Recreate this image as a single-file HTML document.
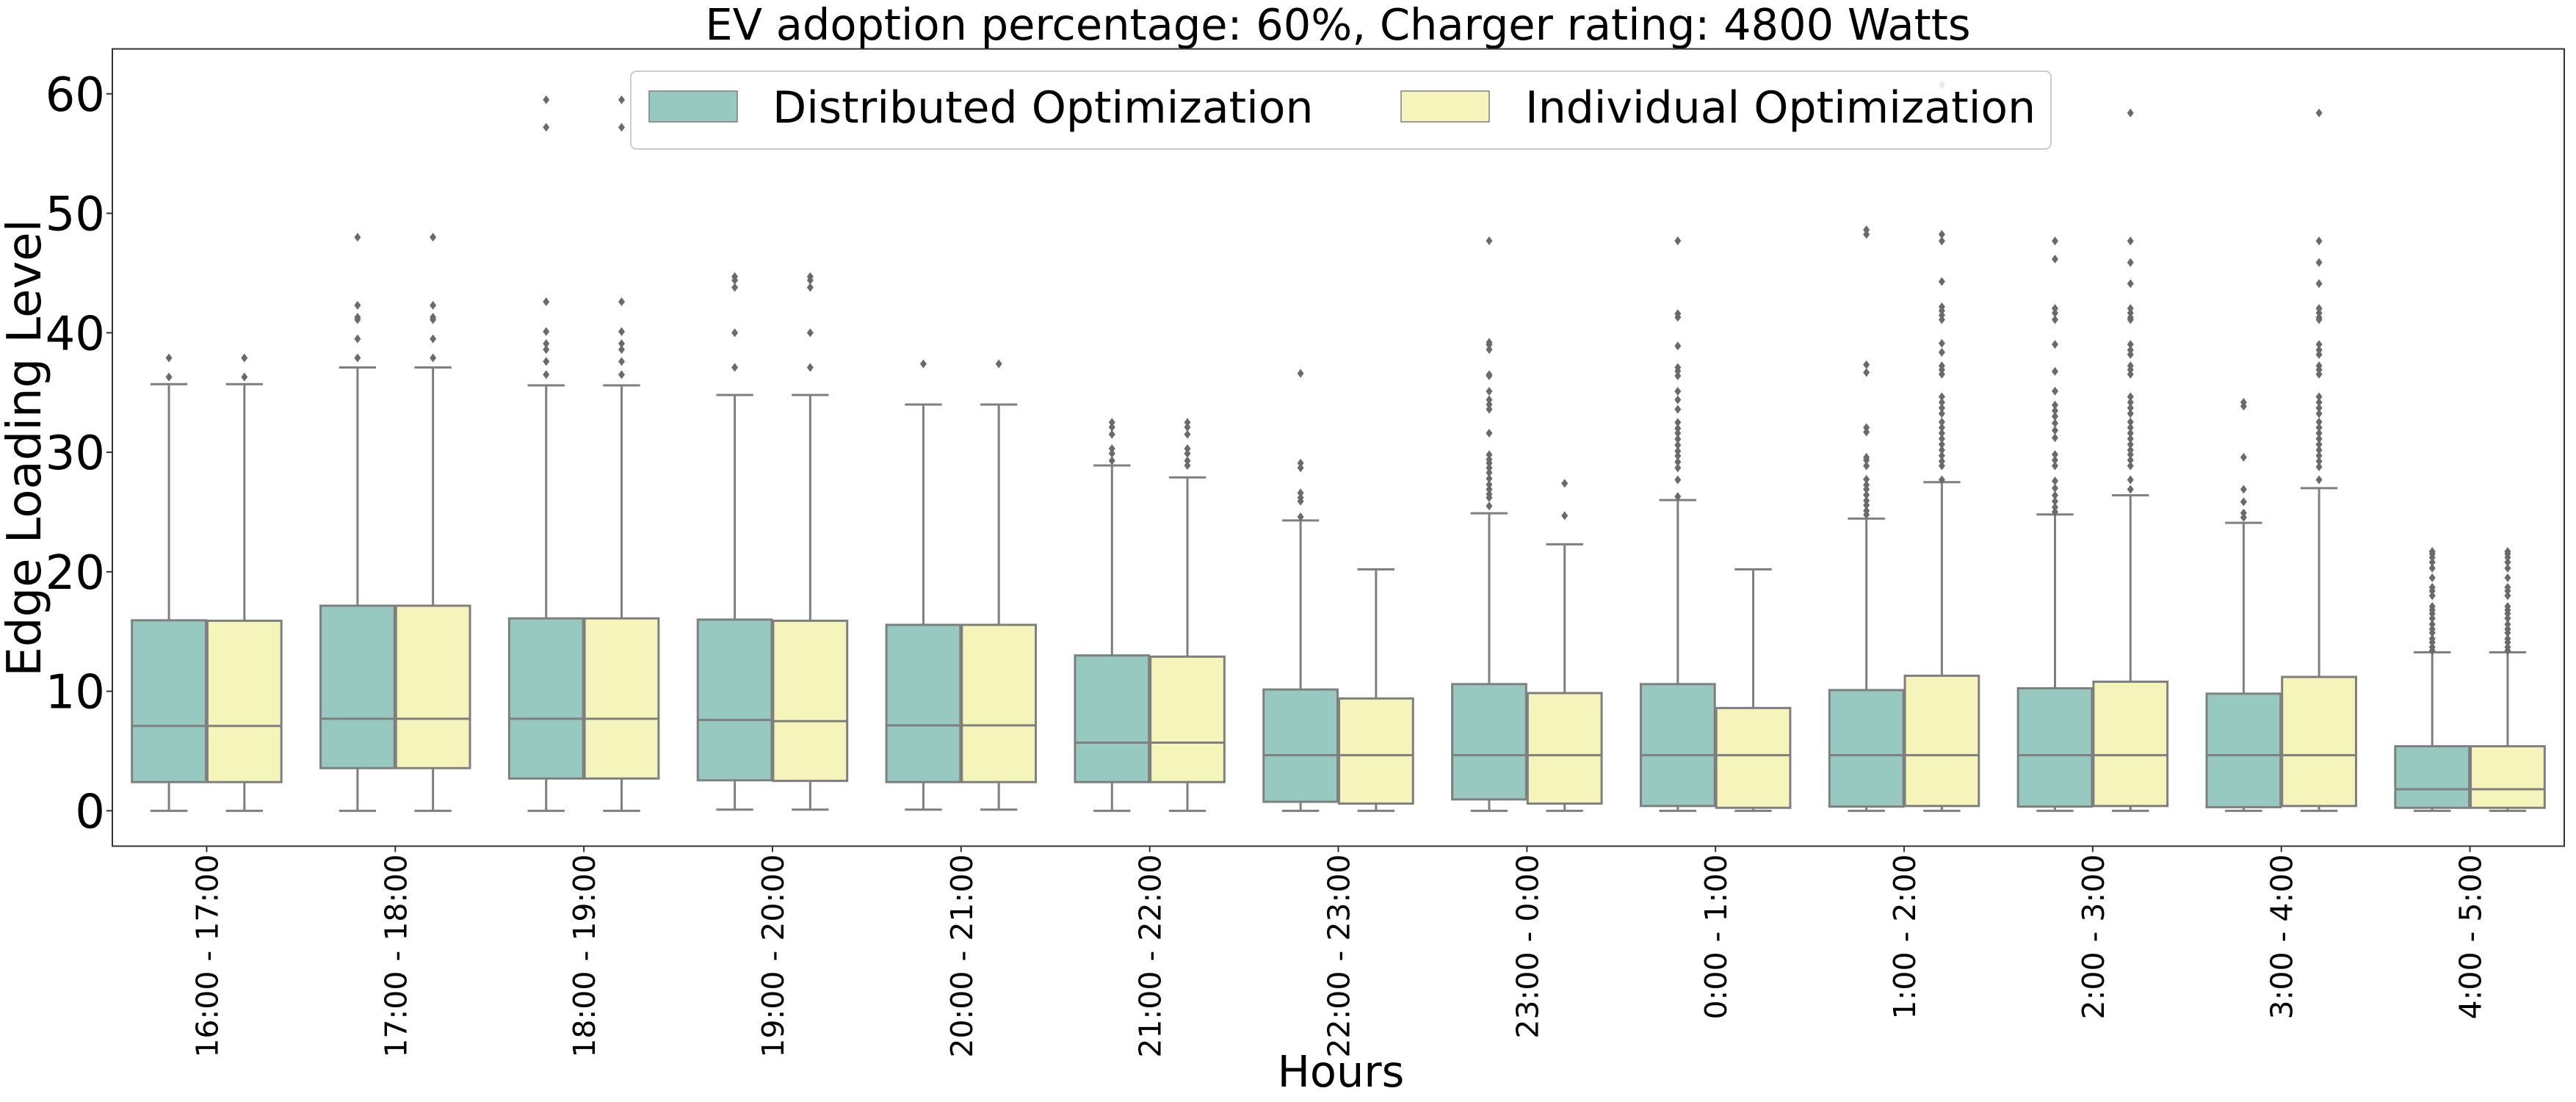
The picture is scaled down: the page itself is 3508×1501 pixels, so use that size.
<!DOCTYPE html>
<html><head><meta charset="utf-8"><style>
html,body{margin:0;padding:0;background:#fff;}
svg{display:block;font-family:"DejaVu Sans","Liberation Sans",sans-serif;}
</style></head><body>
<svg id="chart" width="3508" height="1501" viewBox="0 0 3508 1501" xmlns="http://www.w3.org/2000/svg">
<rect x="0" y="0" width="3508" height="1501" fill="#fff"/>
<text x="1822" y="54" font-size="59" text-anchor="middle" fill="#000">EV adoption percentage: 60%, Charger rating: 4800 Watts</text>
<g id="plot"></g>
<text x="55" y="610" font-size="64" text-anchor="middle" transform="rotate(-90 55 610)" fill="#000">Edge Loading Level</text>
<text x="1826" y="1480" font-size="59" text-anchor="middle" fill="#000">Hours</text>
</svg>
<script>
const categories = ["16:00 - 17:00","17:00 - 18:00","18:00 - 19:00","19:00 - 20:00","20:00 - 21:00","21:00 - 22:00","22:00 - 23:00","23:00 - 0:00","0:00 - 1:00","1:00 - 2:00","2:00 - 3:00","3:00 - 4:00","4:00 - 5:00"];
const yTicks = [0,10,20,30,40,50,60];
const distLo  = [0,0,0,0.1,0.1,0,0,0,0,0,0,0,0];
const distQ1  = [2.4,3.57,2.7,2.55,2.4,2.4,0.75,0.95,0.4,0.35,0.35,0.3,0.25];
const distMed = [7.1,7.7,7.7,7.6,7.15,5.7,4.65,4.65,4.65,4.65,4.65,4.65,1.8];
const distQ3  = [15.94,17.16,16.1,16.0,15.56,13.0,10.15,10.6,10.6,10.1,10.25,9.8,5.4];
const distHi  = [35.7,37.1,35.6,34.8,34.0,28.9,24.3,24.9,26.0,24.45,24.8,24.1,13.26];
const indLo   = [0,0,0,0.1,0.1,0,0,0,0,0,0,0,0];
const indQ1   = [2.4,3.57,2.7,2.5,2.4,2.4,0.6,0.6,0.25,0.4,0.4,0.4,0.25];
const indMed  = [7.1,7.7,7.7,7.5,7.15,5.7,4.65,4.65,4.65,4.65,4.65,4.65,1.8];
const indQ3   = [15.9,17.16,16.1,15.9,15.56,12.9,9.4,9.85,8.6,11.3,10.8,11.2,5.4];
const indHi   = [35.7,37.1,35.6,34.8,34.0,27.9,20.2,22.3,20.2,27.5,26.4,27.0,13.26];
const distOut = [
 [37.9,36.3],
 [48.0,42.3,41.3,41.1,39.5,37.9],
 [59.5,57.2,42.6,40.1,39.1,38.6,37.6,36.5],
 [44.7,44.4,43.8,40.0,37.1],
 [37.4],
 [32.5,32.1,31.5,30.3,29.9,29.3],
 [36.6,29.1,28.7,26.6,26.2,25.9,24.6],
 [47.7,39.2,39.0,38.6,36.5,36.4,35.1,34.4,34.0,33.6,31.6,29.8,29.4,29.1,28.7,28.3,27.8,27.3,26.9,26.5,26.2,25.5],
 [47.7,41.6,41.3,38.9,37.1,36.8,36.4,35.1,34.4,33.6,32.5,32.0,31.6,31.1,30.6,30.1,29.7,29.2,28.7,27.7,26.3],
 [48.62,48.24,37.33,36.68,32.07,31.69,29.58,29.34,28.87,27.74,27.27,26.9,26.43,25.96,25.58,25.11,24.78],
 [47.68,46.17,42.04,41.66,41.1,39.03,36.77,35.12,33.95,33.48,33.01,32.44,31.83,31.22,29.81,29.34,28.87,27.6,27.0,26.4,25.9,25.4,25.01],
 [34.18,33.86,29.58,26.9,25.86,24.92,24.55],
 [21.7,21.5,21.2,20.8,20.3,19.5,18.7,18.4,18.0,17.1,16.8,16.5,16.1,15.6,15.2,14.9,14.4,14.1,13.7,13.4]
];
const indOut = [
 [37.9,36.3],
 [48.0,42.3,41.3,41.1,39.5,37.9],
 [59.5,57.2,42.6,40.1,39.1,38.6,37.6,36.5],
 [44.7,44.4,43.8,40.0,37.1],
 [37.4],
 [32.5,32.1,31.5,30.3,29.9,29.3,28.9],
 [],
 [27.4,24.7],
 [],
 [60.75,48.24,47.68,44.29,42.18,41.85,41.47,41.1,39.12,38.37,37.24,36.91,36.53,34.65,34.18,33.71,33.24,32.54,32.07,31.6,31.13,30.66,30.19,29.72,29.25,28.87,27.7],
 [58.4,47.68,45.89,44.11,42.04,41.66,41.28,41.1,39.03,38.56,38.18,37.24,36.91,36.53,34.65,34.18,33.71,33.24,32.54,32.07,31.6,31.13,30.66,30.19,29.81,29.34,28.87,27.7,26.9],
 [58.4,47.68,45.89,44.11,42.04,41.66,41.28,41.1,39.03,38.56,38.18,37.24,36.91,36.53,34.65,34.18,33.71,33.24,32.54,32.07,31.6,31.13,30.66,30.19,29.72,29.25,28.78,27.7],
 [21.7,21.5,21.2,20.8,20.3,19.5,18.7,18.4,18.0,17.1,16.8,16.5,16.1,15.6,15.2,14.9,14.4,14.1,13.7,13.4]
];

const NS = "http://www.w3.org/2000/svg";
const plot = document.getElementById('plot');
const PL = 153, PR = 3492, PT = 66.6, PB = 1152.5;
const yMin = -2.96, yMax = 63.76;
function yScale(v){ return PB - (v - yMin) / (yMax - yMin) * (PB - PT); }
const step = (PR - PL) / categories.length;
function xScale(i){ return PL + step * (i + 0.5); }
function mk(tag, attrs){ const e = document.createElementNS(NS, tag); for (const k in attrs) e.setAttribute(k, attrs[k]); return e; }

const GRAY = "#7f7f7f";
const COLD = "#98c9c0", COLI = "#f5f5bb";
const boxW = step * 0.4 - 2;

function drawBox(i, off, lo, q1, med, q3, hi, outs, fill, name){
  const g = mk('g', {});
  
  
  const cx = xScale(i) + off;
  const capW = boxW / 2;
  const w1 = mk('line', {x1:cx, x2:cx, y1:yScale(q3), y2:yScale(hi), stroke:GRAY, 'stroke-width':3});
  
  
  g.appendChild(w1);
  const w2 = mk('line', {x1:cx, x2:cx, y1:yScale(q1), y2:yScale(lo), stroke:GRAY, 'stroke-width':3});
  
  
  g.appendChild(w2);
  const c1 = mk('line', {x1:cx-capW/2, x2:cx+capW/2, y1:yScale(hi), y2:yScale(hi), stroke:GRAY, 'stroke-width':3});
  
  
  g.appendChild(c1);
  const c2 = mk('line', {x1:cx-capW/2, x2:cx+capW/2, y1:yScale(lo), y2:yScale(lo), stroke:GRAY, 'stroke-width':3});
  
  
  g.appendChild(c2);
  const r = mk('rect', {x:cx-boxW/2, y:yScale(q3), width:boxW, height:yScale(q1)-yScale(q3), fill:fill, stroke:GRAY, 'stroke-width':3});
  
  
  g.appendChild(r);
  const m = mk('line', {x1:cx-boxW/2, x2:cx+boxW/2, y1:yScale(med), y2:yScale(med), stroke:GRAY, 'stroke-width':3});
  
  
  g.appendChild(m);
  outs.forEach(v => {
    const y = yScale(v);
    const d = mk('path', {d:`M${cx} ${y-6} L${cx+4.5} ${y} L${cx} ${y+6} L${cx-4.5} ${y} Z`, fill:'#6a6a6a'});
    
    
    g.appendChild(d);
  });
  plot.appendChild(g);
}

categories.forEach((c, i) => {
  const off = step * 0.2;
  drawBox(i, -off, distLo[i], distQ1[i], distMed[i], distQ3[i], distHi[i], distOut[i], COLD, 'box-distributed-' + i);
  drawBox(i, off, indLo[i], indQ1[i], indMed[i], indQ3[i], indHi[i], indOut[i], COLI, 'box-individual-' + i);
  const x = xScale(i);
  const t = mk('line', {x1:x, x2:x, y1:PB, y2:PB+8, stroke:'#333', 'stroke-width':2});
  
  
  plot.appendChild(t);
  const lx = x + 15, ly = PB + 11;
  const lab = mk('text', {x:lx, y:ly, 'font-size':41, 'text-anchor':'end', transform:`rotate(-90 ${lx} ${ly})`, fill:'#000'});
  lab.textContent = c;
  
  
  plot.appendChild(lab);
});

yTicks.forEach(v => {
  const y = yScale(v);
  const t = mk('line', {x1:PL-8, x2:PL, y1:y, y2:y, stroke:'#333', 'stroke-width':2});
  
  
  plot.appendChild(t);
  const lab = mk('text', {x:PL-10, y:y+23, 'font-size':64, 'text-anchor':'end', fill:'#000'});
  lab.textContent = v;
  
  
  plot.appendChild(lab);
});

const frame = mk('rect', {x:PL, y:PT, width:PR-PL, height:PB-PT, fill:'none', stroke:'#333', 'stroke-width':2});


plot.appendChild(frame);

const lg = mk('g', {});


const lf = mk('rect', {x:859, y:97, width:1934, height:106, rx:8, fill:'#fff', 'fill-opacity':0.85, stroke:'#cccccc', 'stroke-width':2});


lg.appendChild(lf);
const items = [["Distributed Optimization", COLD, 884, 1052], ["Individual Optimization", COLI, 1908, 2077]];
items.forEach(([txt, col, px, tx]) => {
  const e = mk('g', {});
  
  
  const p = mk('rect', {x:px, y:124, width:120, height:42, fill:col, stroke:GRAY, 'stroke-width':1.5});
  
  
  e.appendChild(p);
  const t = mk('text', {x:tx, y:167, 'font-size':60, fill:'#000'});
  t.textContent = txt;
  
  
  e.appendChild(t);
  lg.appendChild(e);
});
plot.appendChild(lg);
</script>
</body></html>
